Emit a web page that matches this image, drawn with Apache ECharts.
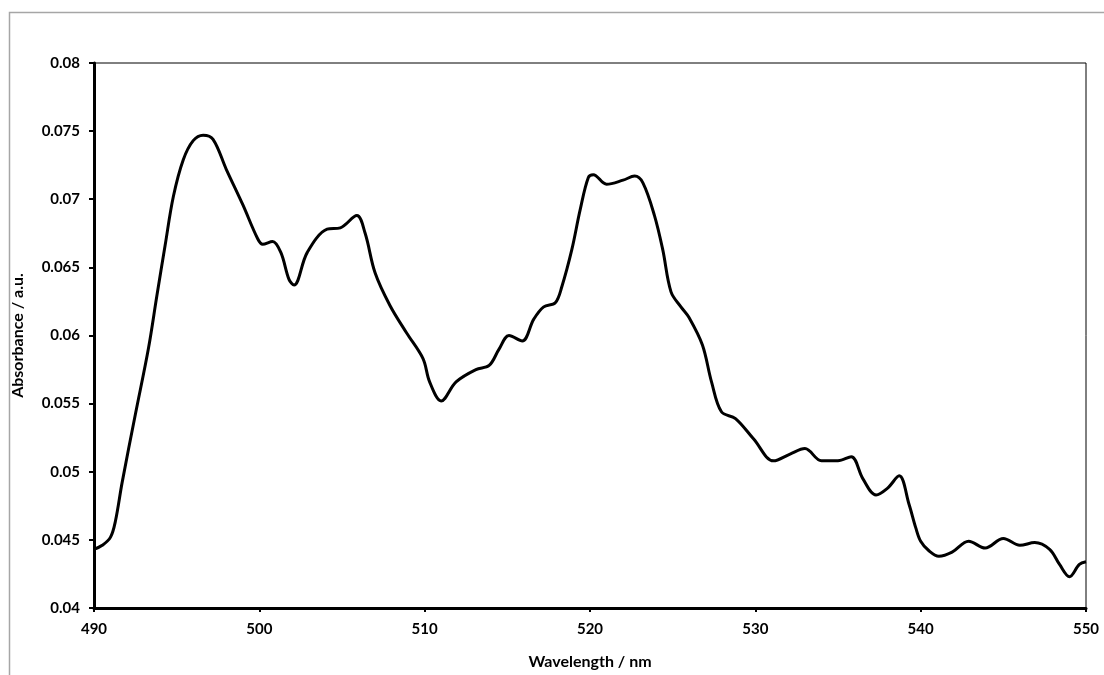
<!DOCTYPE html>
<html>
<head>
<meta charset="utf-8">
<title>Absorbance spectrum</title>
<script src="https://cdn.jsdelivr.net/npm/echarts@6/dist/echarts.min.js"></script>
<style>
  html, body { margin: 0; padding: 0; background: #fff; }
  #chart { width: 1104px; height: 675px; }
</style>
</head>
<body>
<div id="chart"></div>
<script>
// Spectrum samples: wavelength (nm) and absorbance (a.u.)
const wavelength = [
  490.0, 490.5, 491.0, 491.3, 491.7, 492.5, 493.3, 493.8, 494.3, 494.8, 495.4,
  496.0, 496.6, 497.2, 498.0, 499.0, 499.9, 500.2, 500.8, 501.3, 501.8,
  502.1, 502.9, 504.1, 504.9, 505.9, 506.4, 507.0, 507.9, 508.9, 509.9,
  510.3, 511.0, 511.9, 513.1, 513.9, 514.5, 515.1, 515.9, 516.6, 517.2,
  517.9, 518.3, 518.9, 519.4, 519.9, 520.2, 521.0, 522.0, 522.7, 523.2,
  523.9, 524.4, 524.9, 525.5, 526.0, 526.8, 527.35, 527.95, 528.8, 529.9,
  531.1, 532.1, 533.0, 534.0, 535.0, 535.8, 536.5, 537.3, 538.0, 538.7,
  539.3, 539.7, 540.0, 540.5, 541.1, 541.9, 542.9, 543.9, 545.0, 546.0,
  546.9, 547.8, 548.4, 549.0, 549.6, 550.0
];
const absorbance = [
  0.0443, 0.0446, 0.0452, 0.0464, 0.0492, 0.0542, 0.0591, 0.0629, 0.0666, 0.0702, 0.0729,
  0.0743, 0.0747, 0.0744, 0.0722, 0.0696, 0.0671, 0.0667, 0.0669, 0.0661, 0.0641,
  0.0637, 0.0661, 0.0678, 0.0679, 0.0688, 0.0675, 0.0646, 0.0622, 0.0602, 0.0583,
  0.0566, 0.0552, 0.0566, 0.0575, 0.0578, 0.0590, 0.0600, 0.0596, 0.0612, 0.0621,
  0.0624, 0.0636, 0.0663, 0.0692, 0.0716, 0.0718, 0.0711, 0.0714, 0.0717, 0.0712,
  0.0688, 0.0663, 0.0632, 0.0621, 0.0613, 0.0593, 0.0566, 0.0544, 0.0539, 0.0524,
  0.0508, 0.0513, 0.0517, 0.0508, 0.0508, 0.0511, 0.0495, 0.0483, 0.0488, 0.0497,
  0.0476, 0.0459, 0.0449, 0.0442, 0.0438, 0.0441, 0.0449, 0.0444, 0.0451, 0.0446,
  0.0448, 0.0443, 0.0432, 0.0423, 0.0432, 0.0434
];

const xTitle = 'Wavelength / nm';
const yTitle = 'Absorbance / a.u.';

const points = wavelength.map((w, i) => [w, absorbance[i]]);
const font = 'Lato, "Open Sans", "DejaVu Sans", sans-serif';

const chart = echarts.init(document.getElementById('chart'), null, { renderer: 'canvas' });
chart.setOption({
  animation: false,
  backgroundColor: '#ffffff',
  graphic: [{
    type: 'rect',
    left: 7, top: 10,
    shape: { width: 1200, height: 800 },
    style: { fill: 'none', stroke: '#a6a6a6', lineWidth: 1.5 },
    silent: true,
    z: -10
  }],
  grid: {
    left: 94, right: 18, top: 63, bottom: 65,
    show: true,
    borderColor: '#000',
    borderWidth: 1,
    backgroundColor: 'transparent'
  },
  xAxis: {
    type: 'value',
    min: 490, max: 550, interval: 10,
    name: xTitle,
    nameLocation: 'middle',
    nameGap: 46,
    nameTextStyle: { fontFamily: font, fontWeight: 'bold', fontSize: 16, color: '#000' },
    axisLine: { show: true, lineStyle: { color: '#000', width: 3 } },
    axisTick: { show: true, inside: false, length: 4, lineStyle: { color: '#000', width: 2 } },
    axisLabel: { fontFamily: font, fontWeight: 'bold', fontSize: 15, color: '#000', margin: 14 },
    splitLine: { show: false }
  },
  yAxis: {
    type: 'value',
    min: 0.04, max: 0.08, interval: 0.005,
    name: yTitle,
    nameLocation: 'middle',
    nameGap: 68,
    nameRotate: 90,
    nameTextStyle: { fontFamily: font, fontWeight: 'bold', fontSize: 16, color: '#000' },
    axisLine: { show: true, lineStyle: { color: '#000', width: 3 } },
    axisTick: { show: true, inside: false, length: 5, lineStyle: { color: '#000', width: 2 } },
    axisLabel: { fontFamily: font, fontWeight: 'bold', fontSize: 15, color: '#000', margin: 14 },
    splitLine: { show: false }
  },
  series: [{
    type: 'line',
    data: points,
    smooth: 0.35,
    showSymbol: false,
    lineStyle: { color: '#000', width: 3 },
    clip: true
  }]
});
</script>
</body>
</html>
